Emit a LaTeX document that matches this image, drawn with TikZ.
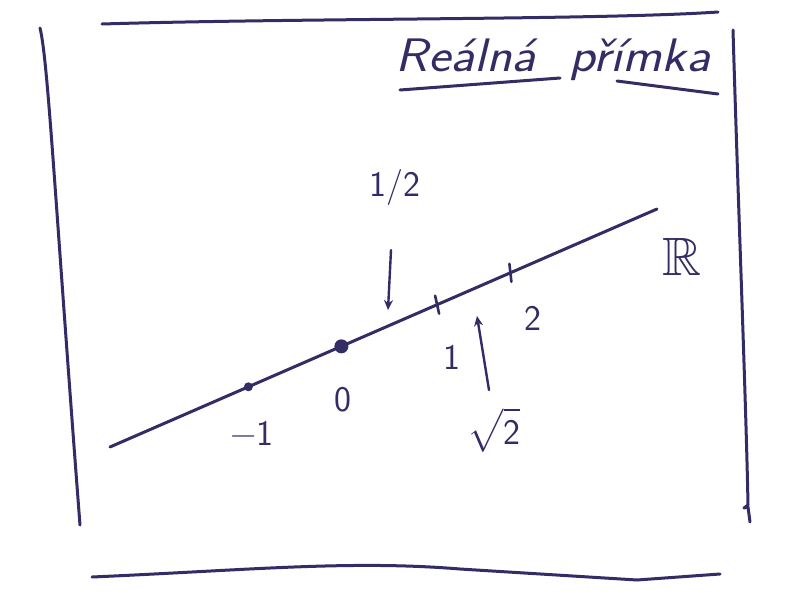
\documentclass[tikz,border=0pt]{standalone}
\usepackage{amssymb}
\usepackage{fontspec}
\usetikzlibrary{arrows.meta,calc}
\definecolor{ink}{RGB}{50,45,100}
\begin{document}
\begin{tikzpicture}[x=1pt,y=-1pt,
  pen/.style={draw=ink, line width=3pt, line cap=round, line join=round},
  lbl/.style={text=ink, font=\sffamily\fontsize{36}{36}\selectfont, inner sep=0pt},
  ptr/.style={draw=ink, line width=2.4pt, line cap=round, -{Stealth[length=10pt,width=9pt]}},
  tickmark/.style={draw=ink, line width=2.6pt, line cap=round}]
\useasboundingbox (0,0) rectangle (785,603);
\fill[white] (0,0) rectangle (785,603);
% frame
\draw[pen] (102,24) .. controls (300,18) and (600,20) .. (718,12);
\draw[pen] (40,28) .. controls (48,60) and (55,200) .. (80,525);
\draw[pen] (733,30) .. controls (738,200) and (746,400) .. (748,505) -- (744,508) -- (748,507) -- (750,522);
\draw[pen] (92,577) .. controls (250,570) and (350,560) .. (460,569) -- (637,580) -- (720,574);
% title
\node[text=ink, font=\sffamily\itshape\fontsize{47}{47}\selectfont, inner sep=0pt, xscale=1.13] (title) at (553,60) {Reálná\ \ přímka};
\draw[pen] (400,90) -- (560,78);
\draw[pen] (617,81) -- (718,94);
% real line
\coordinate (a) at (110,447);
\coordinate (b) at (657,209);
\draw[pen] (a) -- (b);
\coordinate (pm1) at ($(a)!0.253!(b)$);
\coordinate (p0) at ($(a)!0.423!(b)$);
\coordinate (p1) at ($(a)!0.598!(b)$);
\coordinate (p2) at ($(a)!0.732!(b)$);
\fill[ink] (pm1) circle (4.5pt);
\fill[ink] (p0) circle (7pt);
\draw[tickmark] ($(p1)+(-2,-9)$) -- ($(p1)+(2,9)$);
\draw[tickmark] ($(p2)+(-1,-9)$) -- ($(p2)+(1,9)$);
% labels
\node[lbl] (lm1) at (252,433) {−1};
\node[lbl] (l0) at (343,400) {0};
\node[lbl] (l1) at (452,357) {1};
\node[lbl] (l2) at (533,318) {2};
\node[lbl] (lhalf) at (395,187) {1/2};
\node[lbl] (lsq) at (494,430) {$\sqrt{\mathsf{2}}$};
\node[text=ink, inner sep=0pt, font=\fontsize{54}{54}\selectfont] (lR) at (682,257) {$\mathbb{R}$};
% pointers
\coordinate (hs) at (391,250);
\coordinate (ht) at (388,310);
\draw[ptr] (hs) -- (ht);
\coordinate (ss) at (489,390);
\coordinate (st) at (477,316);
\draw[ptr] (ss) -- (st);
\end{tikzpicture}
\end{document}
